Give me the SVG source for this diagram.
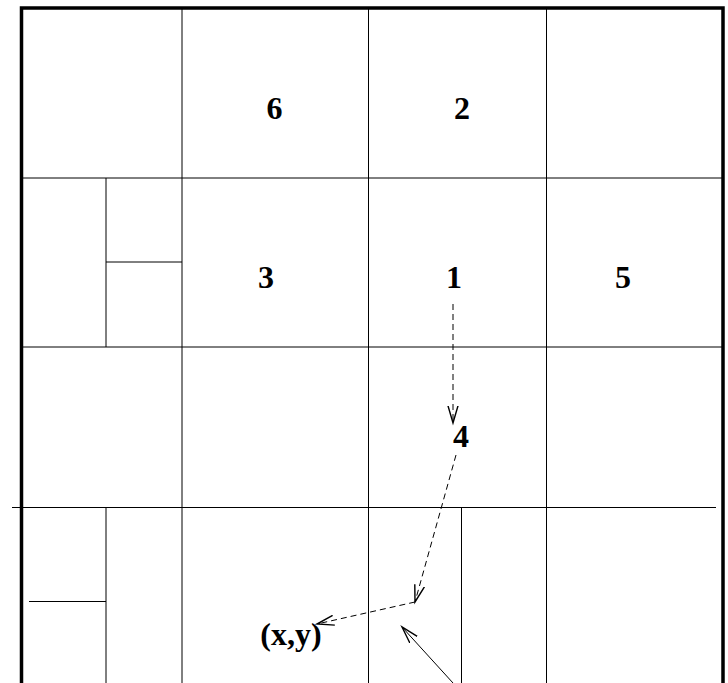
<svg xmlns="http://www.w3.org/2000/svg" width="728" height="683" viewBox="0 0 728 683">
<style>
.g{stroke:#000;stroke-width:1;fill:none}
.b{stroke:#000;stroke-width:3.5;fill:none}
.lbl{font-family:"Liberation Serif","Times New Roman",serif;font-weight:bold;font-size:32px;fill:#000;text-anchor:middle}
.c{stroke:#000;stroke-width:1;fill:none}
.d{stroke-dasharray:6 4}
</style>
<defs>
<marker id="ah" markerUnits="userSpaceOnUse" markerWidth="20" markerHeight="20" viewBox="-12 -6 14 12" refX="0" refY="0" orient="auto">
<path d="M-12,-3.5 L0,0 L-12,3.5" fill="none" stroke="#000" stroke-width="1"/>
</marker>
</defs>
<rect width="728" height="683" fill="#fff"/>
<g id="grid">
<path class="b" d="M21.5,683 V8 H723 V683"/>
<path class="g" d="M21,178 H722 M21,347 H722 M12,507.5 H716"/>
<path class="g" d="M182,8 V683 M368.5,8 V683 M546.5,8 V683"/>
<path class="g" d="M106,178 V347 M106,262 H182"/>
<path class="g" d="M106,507 V683 M29,601.5 H106"/>
<path class="g" d="M461.5,507 V683"/>
</g>
<g id="n6"><text class="lbl" x="274.5" y="119">6</text></g>
<g id="n2"><text class="lbl" x="462" y="119">2</text></g>
<g id="n3"><text class="lbl" x="266" y="288">3</text></g>
<g id="n1"><text class="lbl" x="454" y="288">1</text></g>
<g id="n5"><text class="lbl" x="623" y="288">5</text></g>
<g id="n4"><text class="lbl" x="461" y="447">4</text></g>
<g id="nxy"><text class="lbl" x="291" y="645">(x,y)</text></g>
<g id="connectors">
<path class="c d" d="M453,304 V423" marker-end="url(#ah)"/>
<path class="c d" d="M456,455 L415,602" marker-end="url(#ah)"/>
<path class="c d" d="M415,602 L317,624" marker-end="url(#ah)"/>
<path class="c" d="M453,683 L402,627" marker-end="url(#ah)"/>
</g>
</svg>
